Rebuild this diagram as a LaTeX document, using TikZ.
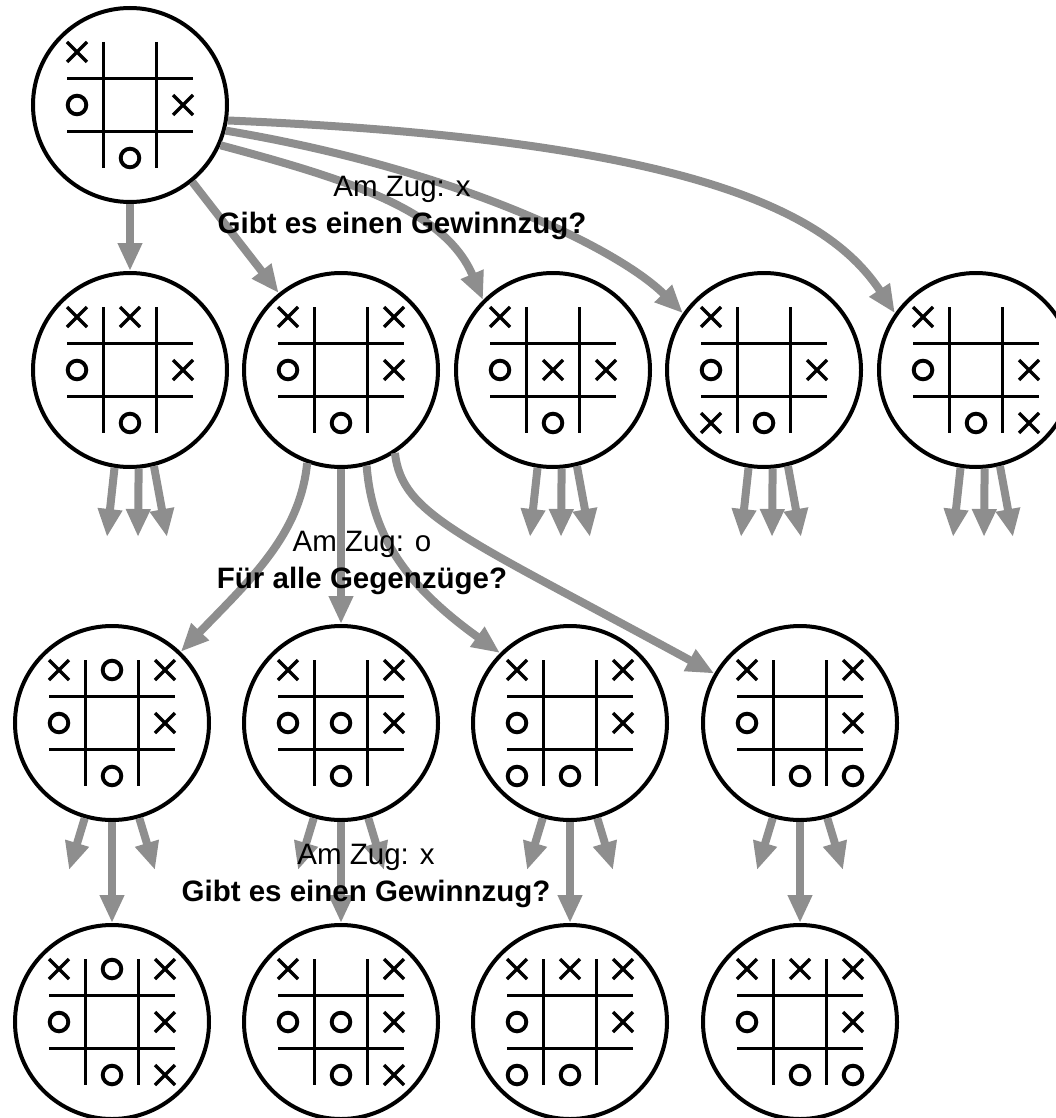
\documentclass[tikz,border=0pt]{standalone}
\usepackage{fontspec}
\setmainfont{Liberation Sans}
\usetikzlibrary{arrows.meta,calc}
\definecolor{arrowgray}{RGB}{142,142,142}

% Tic-tac-toe board drawn inside a state node:
% #1 node name, #2 cells with an x (col/row), #3 cells with an o (col/row)
\newcommand\tttboard[3]{%
  \begin{scope}[shift={(#1.center)}]
    \draw[gridline] (-63,-26.5) -- (63,-26.5) (-63,26.5) -- (63,26.5)
                    (-26.5,-63) -- (-26.5,63) (26.5,-63) -- (26.5,63);
    \foreach \c/\r in {#2}
      \draw[xline] (53*\c-63,53*\r-63) -- ++(20,20)
                   (53*\c-63,53*\r-43) -- ++(20,-20);
    \foreach \c/\r in {#3}
      \draw[oline] (53*\c-53,53*\r-53) circle[radius=9.3pt];
  \end{scope}}

\begin{document}
\begin{tikzpicture}[x=1pt,y=-1pt,
  state/.style={circle,draw=black,line width=4pt,minimum size=194pt,inner sep=0pt},
  gridline/.style={line width=3.3pt},
  xline/.style={line width=3.3pt},
  oline/.style={line width=3.9pt},
  move/.style={draw=arrowgray,line width=8pt,-{Triangle[length=28pt,width=23pt]}},
  lbl/.style={align=center,inner sep=0pt,font=\fontsize{29.5}{37}\selectfont}]
  \useasboundingbox (0,0) rectangle (1056,1118);
  \clip (0,0) rectangle (1056,1118);

  % positions
  \node[state] (t) at (130,105) {};
  \node[state] (a1) at (130,370) {};
  \node[state] (a2) at (341,370) {};
  \node[state] (a3) at (553,370) {};
  \node[state] (a4) at (764,370) {};
  \node[state] (a5) at (976,370) {};
  \node[state] (b1) at (112,723) {};
  \node[state] (b2) at (341,723) {};
  \node[state] (b3) at (570,723) {};
  \node[state] (b4) at (800,723) {};
  \node[state] (c1) at (112,1022) {};
  \node[state] (c2) at (341,1022) {};
  \node[state] (c3) at (570,1022) {};
  \node[state] (c4) at (800,1022) {};

  % board contents
  \tttboard{t}{0/0,2/1}{0/1,1/2}
  \tttboard{a1}{0/0,1/0,2/1}{0/1,1/2}
  \tttboard{a2}{0/0,2/0,2/1}{0/1,1/2}
  \tttboard{a3}{0/0,1/1,2/1}{0/1,1/2}
  \tttboard{a4}{0/0,2/1,0/2}{0/1,1/2}
  \tttboard{a5}{0/0,2/1,2/2}{0/1,1/2}
  \tttboard{b1}{0/0,2/0,2/1}{1/0,0/1,1/2}
  \tttboard{b2}{0/0,2/0,2/1}{0/1,1/1,1/2}
  \tttboard{b3}{0/0,2/0,2/1}{0/1,0/2,1/2}
  \tttboard{b4}{0/0,2/0,2/1}{0/1,1/2,2/2}
  \tttboard{c1}{0/0,2/0,2/1,2/2}{1/0,0/1,1/2}
  \tttboard{c2}{0/0,2/0,2/1,2/2}{0/1,1/1,1/2}
  \tttboard{c3}{0/0,1/0,2/0,2/1}{0/1,0/2,1/2}
  \tttboard{c4}{0/0,1/0,2/0,2/1}{0/1,1/2,2/2}

  % moves of x from the root
  \draw[move] (t.south) -- (a1.north);
  \draw[move] (t.-51) -- (a2.129);
  \draw[move] (t.-24) .. controls (350,180) and (445,210) .. (a3.135);
  \draw[move] (t.-15) .. controls (460,170) and (620,250) .. (a4.145);
  \draw[move] (t.-9) .. controls (700,140) and (830,215) .. (a5.145);

  % replies of o
  \draw[move] (a2.-110) .. controls (300,535) and (250,580) .. (b1.46);
  \draw[move] (a2.south) -- (b2.north);
  \draw[move] (a2.-75) .. controls (372,535) and (405,585) .. (b3.135);
  \draw[move] (a2.-57) .. controls (402,515) and (460,535) .. (b4.150);

  % further branches that are not expanded
  \foreach \n in {a1,a3,a4,a5} {
    \coordinate (\n-l) at ($(\n)+(-23,167)$);
    \coordinate (\n-m) at ($(\n)+(8,167)$);
    \coordinate (\n-r) at ($(\n)+(37,167)$);
    \draw[move] (\n.-99) -- (\n-l);
    \draw[move] (\n.-85) -- (\n-m);
    \draw[move] (\n.-76) -- (\n-r);
  }
  \foreach \n/\m in {b1/c1,b2/c2,b3/c3,b4/c4} {
    \coordinate (\n-l) at ($(\n)+(-43,147)$);
    \coordinate (\n-r) at ($(\n)+(43,147)$);
    \draw[move] (\n.-106) -- (\n-l);
    \draw[move] (\n.south) -- (\m.north);
    \draw[move] (\n.-74) -- (\n-r);
  }

  % level captions
  \node[lbl] (q1) at (402,208) {Am Zug: x\\\textbf{Gibt es einen Gewinnzug?}};
  \node[lbl] (q2) at (362,563) {Am Zug: o\\\textbf{Für alle Gegenzüge?}};
  \node[lbl] (q3) at (366,876) {Am Zug: x\\\textbf{Gibt es einen Gewinnzug?}};
\end{tikzpicture}
\end{document}
